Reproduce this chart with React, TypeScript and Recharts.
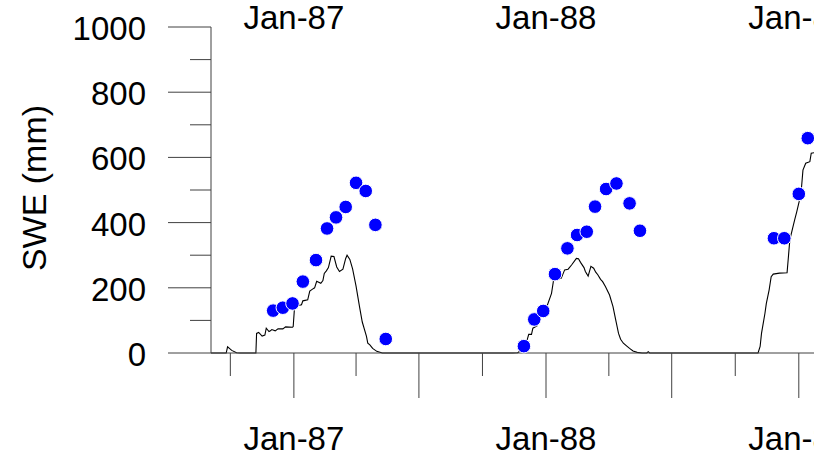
import { ComposedChart, Line, Scatter, XAxis, YAxis } from "recharts";

// simulated SWE (mm), daily model output
const modelDates = [
  "1986-09-03", "1986-09-25", "1986-09-27", "1986-10-03", "1986-10-10", "1986-10-15",
  "1986-11-07", "1986-11-08", "1986-11-11", "1986-11-16", "1986-11-20", "1986-11-22",
  "1986-11-26", "1986-11-28", "1986-11-30", "1986-12-05", "1986-12-09", "1986-12-16",
  "1986-12-20", "1986-12-30", "1986-12-31", "1987-01-02", "1987-01-08", "1987-01-12",
  "1987-01-14", "1987-01-21", "1987-01-24", "1987-01-28", "1987-01-31", "1987-02-03",
  "1987-02-09", "1987-02-12", "1987-02-14", "1987-02-17", "1987-02-20", "1987-02-24",
  "1987-02-28", "1987-03-04", "1987-03-08", "1987-03-13", "1987-03-17", "1987-03-19",
  "1987-03-23", "1987-03-27", "1987-04-01", "1987-04-06", "1987-04-10", "1987-04-16",
  "1987-04-18", "1987-04-21", "1987-04-25", "1987-05-01", "1987-05-09",
  "1987-11-14", "1987-11-21", "1987-11-27", "1987-12-01", "1987-12-04", "1987-12-07",
  "1987-12-11", "1987-12-13", "1987-12-19", "1987-12-22", "1987-12-26", "1987-12-30",
  "1988-01-03", "1988-01-09", "1988-01-12", "1988-01-16", "1988-01-23", "1988-01-28",
  "1988-02-02", "1988-02-07", "1988-02-14", "1988-02-17", "1988-02-20", "1988-02-25",
  "1988-02-27", "1988-03-02", "1988-03-06", "1988-03-10", "1988-03-13", "1988-03-16",
  "1988-03-20", "1988-03-23", "1988-03-27", "1988-04-02", "1988-04-07", "1988-04-11",
  "1988-04-15", "1988-04-18", "1988-04-22", "1988-04-27", "1988-05-01", "1988-05-06",
  "1988-05-12", "1988-05-19", "1988-05-26", "1988-05-28", "1988-05-30",
  "1988-11-03", "1988-11-06", "1988-11-08", "1988-11-13", "1988-11-15", "1988-11-19",
  "1988-11-22", "1988-11-25", "1988-12-04", "1988-12-15", "1988-12-17", "1988-12-19",
  "1988-12-23", "1988-12-26", "1988-12-29", "1989-01-02", "1989-01-05", "1989-01-07",
  "1989-01-11", "1989-01-17", "1989-01-19", "1989-01-25",
];
const modelSwe = [
  0, 0, 19, 8, 1, 0,
  0, 60, 63, 52, 55, 76,
  66, 68, 72, 68, 74, 74,
  80, 79, 81, 142, 146, 148,
  160, 163, 190, 196, 200, 220,
  214, 222, 244, 252, 262, 297,
  296, 264, 250, 257, 290, 300,
  287, 258, 205, 142, 95, 52,
  30, 25, 14, 5, 0,
  0, 1, 10, 21, 35, 57,
  57, 76, 83, 96, 117, 127,
  147, 183, 224, 226, 229, 255,
  257, 270, 290, 289, 278, 262,
  250, 236, 266, 260, 248, 240,
  226, 219, 204, 178, 142, 101,
  60, 42, 30, 21, 14, 6,
  2, 0, 0, 4, 0,
  0, 20, 60, 122, 152, 193,
  234, 242, 245, 246, 296, 347,
  382, 408, 433, 469, 510, 561,
  582, 587, 613, 615,
];

// observed snow course SWE (mm)
const obsDates = [
  "1986-12-02", "1986-12-16", "1986-12-30", "1987-01-14", "1987-02-02", "1987-02-18",
  "1987-03-03", "1987-03-17", "1987-04-01", "1987-04-15", "1987-04-29", "1987-05-14",
  "1987-11-30", "1987-12-15", "1987-12-28", "1988-01-14", "1988-02-01", "1988-02-15",
  "1988-02-29", "1988-03-12", "1988-03-28", "1988-04-12", "1988-05-01", "1988-05-16",
  "1988-11-26", "1988-12-11", "1989-01-01", "1989-01-14",
];
const obsSwe = [
  130, 139, 152, 219, 285, 382, 416, 448, 522, 497, 393, 43,
  21, 103, 129, 242, 321, 362, 372, 449, 503, 520, 459, 375,
  352, 352, 488, 659,
];

const xTickDates = [
  "1986-10-01", "1987-01-01", "1987-04-01", "1987-07-01", "1987-10-01",
  "1988-01-01", "1988-04-01", "1988-07-01", "1988-10-01", "1989-01-01",
];
const yTicks = [0, 100, 200, 300, 400, 500, 600, 700, 800, 900, 1000];
const MONTHS = ["Jan", "Feb", "Mar", "Apr", "May", "Jun", "Jul", "Aug", "Sep", "Oct", "Nov", "Dec"];

const modelData = modelDates.map((d, i) => ({ t: Date.parse(d), swe: modelSwe[i] }));
const obsData = obsDates.map((d, i) => ({ t: Date.parse(d), swe: obsSwe[i] }));
const xTicks = xTickDates.map((d) => Date.parse(d));
const xDomain = [Date.parse("1986-09-03"), Date.parse("1989-01-23")];

const FONT = "'Liberation Sans', Arial, sans-serif";
const AXIS = "#404040";

const fmtDate = (v: number) => {
  const d = new Date(v);
  return MONTHS[d.getUTCMonth()] + "-" + String(d.getUTCFullYear()).slice(2);
};

const BottomTick = (props: any) => {
  const { x, y, payload } = props;
  const m = new Date(payload.value).getUTCMonth();
  const major = m === 0 || m === 6;
  return (
    <g>
      <line x1={x} x2={x} y1={y} y2={y + (major ? 45 : 23)} stroke={AXIS} strokeWidth={1} />
      {m === 0 && (
        <text x={x} y={y + 97} textAnchor="middle" fontSize={33} fontFamily={FONT} fill="#000">
          {fmtDate(payload.value)}
        </text>
      )}
    </g>
  );
};

const TopTick = (props: any) => {
  const { x, y, payload } = props;
  const m = new Date(payload.value).getUTCMonth();
  if (m !== 0) return <g />;
  return (
    <text x={x} y={y + 2} textAnchor="middle" fontSize={33} fontFamily={FONT} fill="#000">
      {fmtDate(payload.value)}
    </text>
  );
};

const LeftTick = (props: any) => {
  const { x, y, payload } = props;
  const major = payload.value % 200 === 0;
  return (
    <g>
      <line x1={x - (major ? 43 : 21)} x2={x} y1={y} y2={y} stroke={AXIS} strokeWidth={1} />
      {major && (
        <text x={x - 65} y={y + 13} textAnchor="end" fontSize={33} fontFamily={FONT} fill="#000">
          {payload.value}
        </text>
      )}
    </g>
  );
};

const YLabel = () => (
  <text
    x={46}
    y={188}
    transform="rotate(-90 46 188)"
    textAnchor="middle"
    fontSize={34}
    fontFamily={FONT}
    fill="#000"
  >
    SWE (mm)
  </text>
);

const Dot = (props: any) => (
  <circle cx={props.cx} cy={props.cy} r={6.8} fill="#0000ff" stroke="#ffffff" strokeWidth={1} />
);

export default function App() {
  return (
    <div
      style={{
        position: "absolute",
        left: 0,
        top: 0,
        width: 814,
        height: 456,
        overflow: "hidden",
        background: "#fff",
      }}
    >
      <ComposedChart width={814} height={456} margin={{ top: 0, right: 0, bottom: 0, left: 0 }}>
        <XAxis
          dataKey="t"
          type="number"
          domain={xDomain}
          allowDataOverflow
          ticks={xTicks}
          interval={0}
          height={103}
          tickSize={0}
          tickMargin={0}
          tickLine={false}
          axisLine={{ stroke: AXIS, strokeWidth: 1 }}
          tick={<BottomTick />}
        />
        <XAxis
          xAxisId="top"
          orientation="top"
          dataKey="t"
          type="number"
          domain={xDomain}
          allowDataOverflow
          ticks={xTicks}
          interval={0}
          height={27}
          tickSize={0}
          tickMargin={0}
          tickLine={false}
          axisLine={false}
          tick={<TopTick />}
        />
        <YAxis
          type="number"
          domain={[0, 1000]}
          ticks={yTicks}
          interval={0}
          width={211}
          tickSize={0}
          tickMargin={0}
          tickLine={false}
          axisLine={{ stroke: AXIS, strokeWidth: 1 }}
          tick={<LeftTick />}
          label={<YLabel />}
        />
        <Scatter data={obsData} dataKey="swe" shape={<Dot />} isAnimationActive={false} />
        <Line
          data={modelData}
          dataKey="swe"
          type="linear"
          stroke="#000"
          strokeWidth={1.1}
          dot={false}
          activeDot={false}
          isAnimationActive={false}
        />
      </ComposedChart>
    </div>
  );
}
